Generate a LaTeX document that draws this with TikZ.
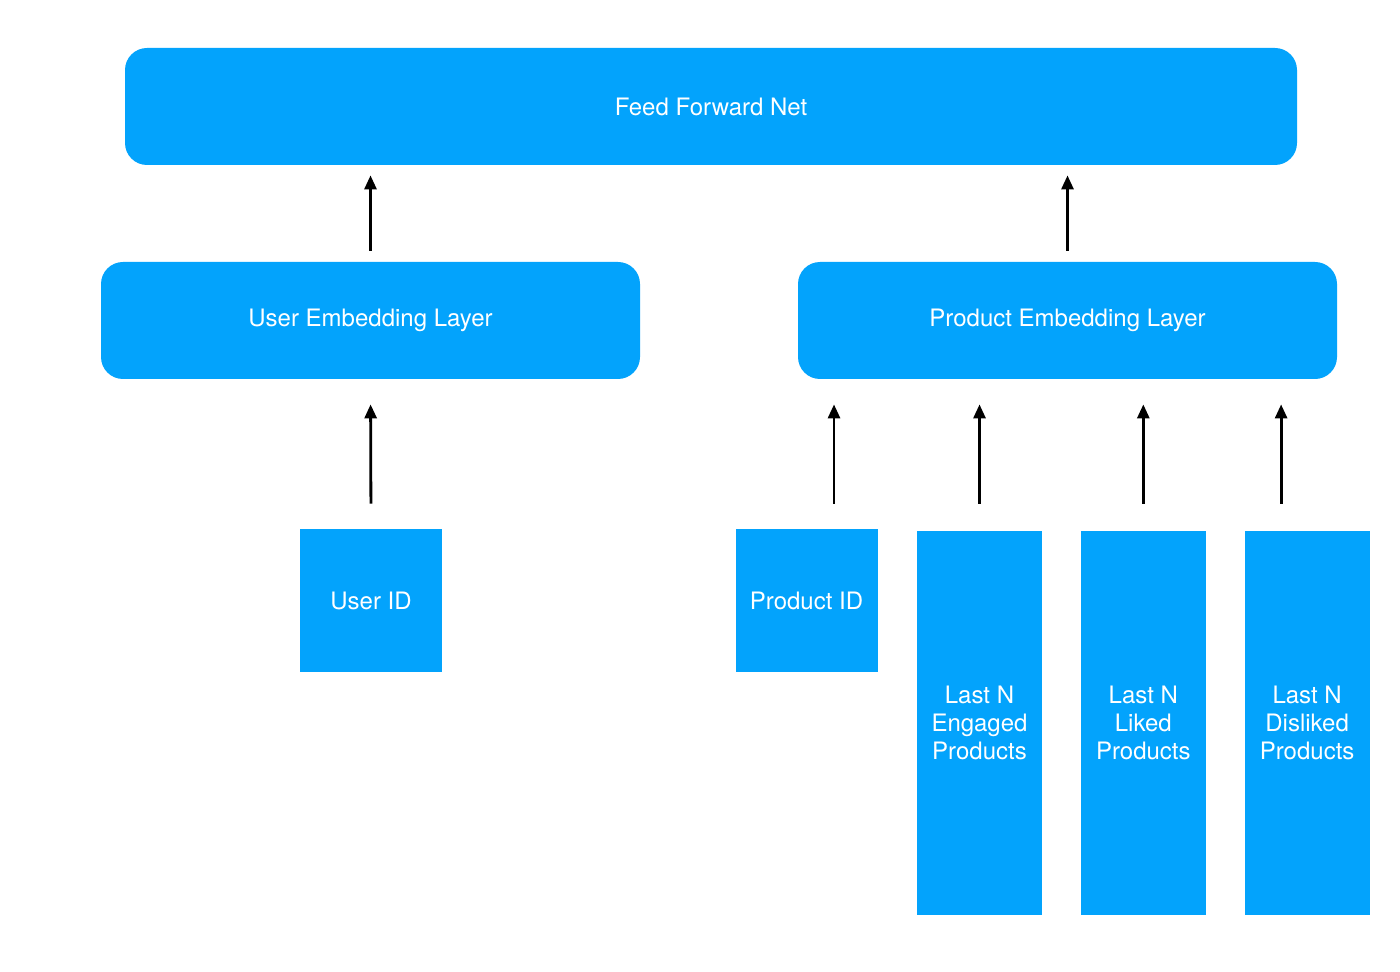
\documentclass[tikz,border=0pt]{standalone}
\usepackage{fontspec}
\setmainfont{TeX Gyre Heros}
\usetikzlibrary{positioning,arrows.meta}
\definecolor{netblue}{RGB}{3,163,252}
\tikzset{
  layer/.style={fill=netblue, rounded corners=11pt, text=white, inner sep=0pt, minimum height=58.5pt},
  feat/.style={fill=netblue, text=white, inner sep=0pt, align=center, minimum width=71pt, minimum height=71.5pt},
  hist/.style={fill=netblue, text=white, inner sep=0pt, align=center, minimum width=62.5pt, minimum height=192pt},
  up/.style={-{Triangle[length=7pt,width=6pt]}, line width=1.4pt, shorten <=12.5pt, shorten >=12.5pt}
}
\begin{document}
\begin{tikzpicture}[x=0.5pt, y=-0.5pt, font=\fontsize{12}{14}\selectfont]
\useasboundingbox (0,0) rectangle (1400,972);
\node[layer, minimum width=586pt] (ffn) at (711,106.5) {Feed Forward Net};
\node[layer, minimum width=269.5pt] (uemb) at (370.5,320.5) {\raisebox{-1.5pt}{User Embedding Layer}};
\node[layer, minimum width=269.5pt] (pemb) at (1067.5,320.5) {\raisebox{-1.5pt}{Product Embedding Layer}};
\node[feat] (uid) at (371,600.5) {User ID};
\node[feat] (pid) at (806.5,600.5) {Product ID};
\node[hist] (eng) at (979.5,723) {Last N\\Engaged\\Products};
\node[hist, right=19pt of eng] (liked) {Last N\\Liked\\Products};
\node[hist, right=19pt of liked] (disliked) {Last N\\Disliked\\Products};
% layers to the net
\draw[up, shorten <=5.5pt, shorten >=5pt] (uemb.north) -- (uemb.north |- ffn.south);
\draw[up, shorten <=5.5pt, shorten >=5pt] (pemb.north) -- (pemb.north |- ffn.south);
% inputs to the embeddings
\draw[up] (uid.north) -- (uemb.south);
\draw[up] ([xshift=13.75pt]pid.north) -- ([xshift=13.75pt]pid.north |- pemb.south);
\draw[up, shorten <=13.5pt] (eng.north) -- (eng.north |- pemb.south);
\draw[up, shorten <=13.5pt] (liked.north) -- (liked.north |- pemb.south);
\draw[up, shorten <=13.5pt] ([xshift=-13pt]disliked.north) -- ([xshift=-13pt]disliked.north |- pemb.south);
\end{tikzpicture}
\end{document}
